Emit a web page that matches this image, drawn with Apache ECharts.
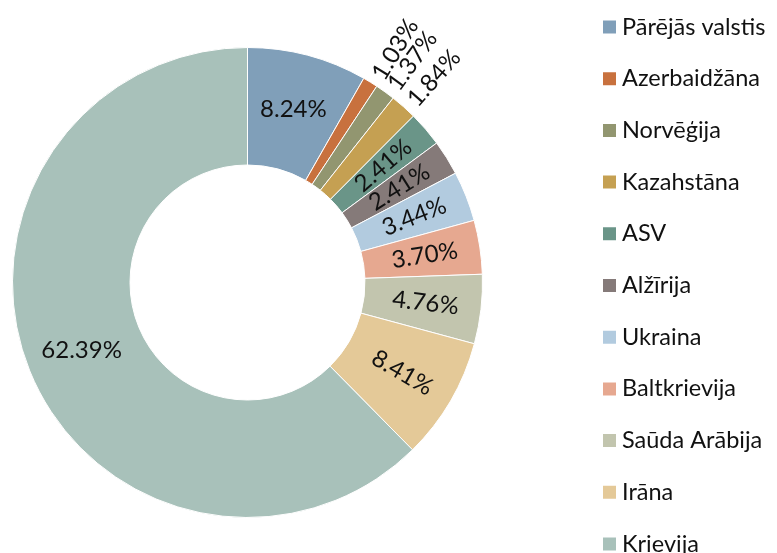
<!DOCTYPE html>
<html>
<head>
<meta charset="utf-8">
<script src="https://cdn.jsdelivr.net/npm/echarts@6/dist/echarts.min.js"></script>
<style>
  html, body { margin: 0; padding: 0; background: #fff; }
  #chart { width: 777px; height: 553px; }
</style>
</head>
<body>
<div id="chart"></div>
<script>
// Import shares by country, percent
const countries = ['Pārējās valstis', 'Azerbaidžāna', 'Norvēģija', 'Kazahstāna', 'ASV', 'Alžīrija', 'Ukraina', 'Baltkrievija', 'Saūda Arābija', 'Irāna', 'Krievija'];
const shares = [8.24, 1.03, 1.37, 1.84, 2.41, 2.41, 3.44, 3.70, 4.76, 8.41, 62.39];
const colors = ['#809FB9', '#C8713E', '#929670', '#C5A052', '#6A9588', '#857A79', '#B2CBDF', '#E6A890', '#C2C5AE', '#E4C998', '#A8C1BA'];

// label placement per slice: small slices go outside, two large ones stay horizontal
const outsideSet = new Set(['Azerbaidžāna', 'Norvēģija', 'Kazahstāna']);
const flatSet = new Set(['Pārējās valstis', 'Krievija']);

const FONT = 'Lato, "Open Sans", sans-serif';

const data = countries.map((name, i) => {
  const item = { name, value: shares[i], itemStyle: { color: colors[i] } };
  if (outsideSet.has(name)) {
    item.label = { position: 'outside', rotate: 'radial' };
    item.labelLine = { show: false, length: 5, length2: 0 };
  } else if (flatSet.has(name)) {
    item.label = { position: 'inside', rotate: 0 };
  } else {
    item.label = { position: 'inside', rotate: 'radial' };
  }
  return item;
});

const chart = echarts.init(document.getElementById('chart'), null, { renderer: 'canvas' });
chart.setOption({
  animation: false,
  backgroundColor: '#ffffff',
  legend: {
    orient: 'vertical',
    left: 596,
    top: 10,
    height: 620,
    itemWidth: 15,
    itemHeight: 15,
    itemGap: 27.7,
    icon: 'rect',
    textStyle: { fontFamily: FONT, fontSize: 23.5, lineHeight: 24, color: '#111111' },
    data: countries
  },
  series: [{
    type: 'pie',
    center: [247.5, 282.5],
    radius: [117.5, 235],
    startAngle: 90,
    clockwise: true,
    avoidLabelOverlap: false,
    itemStyle: { borderColor: '#ffffff', borderWidth: 1 },
    label: {
      show: true,
      formatter: p => p.value.toFixed(2) + '%',
      fontFamily: FONT,
      fontSize: 24,
      color: '#111111'
    },
    labelLayout: { hideOverlap: false },
    labelLine: { show: false },
    emphasis: { disabled: true },
    data
  }]
});
</script>
</body>
</html>
